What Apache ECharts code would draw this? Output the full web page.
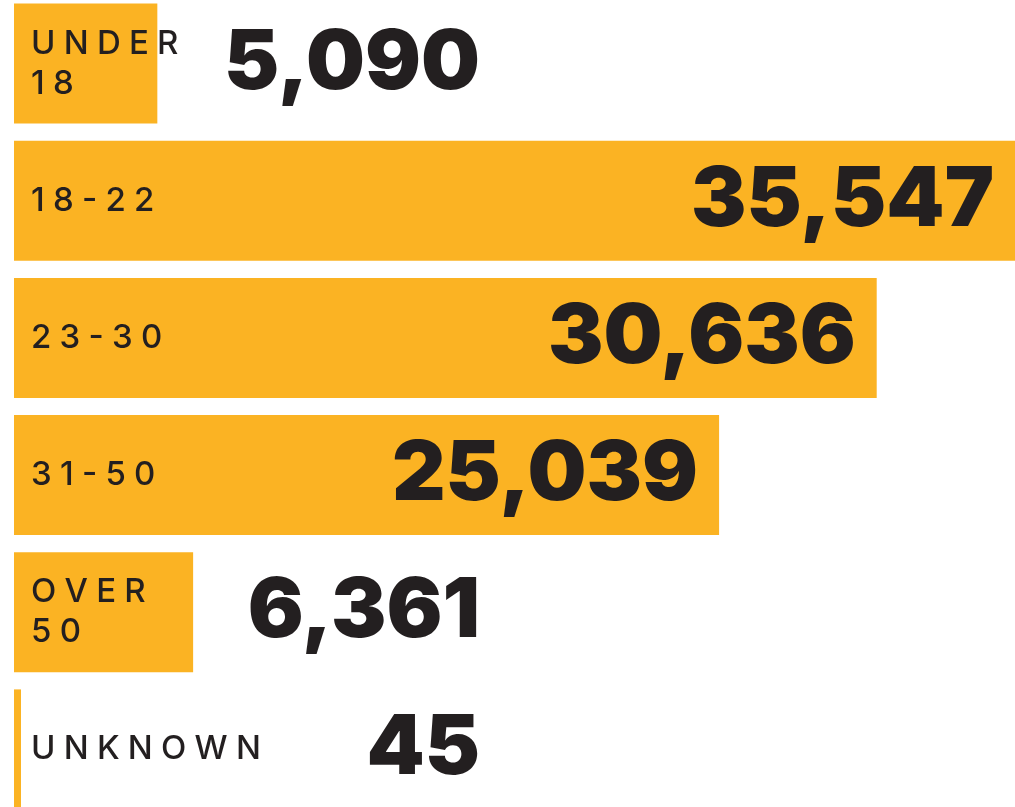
<!DOCTYPE html>
<html>
<head>
<meta charset="utf-8">
<script src="https://cdn.jsdelivr.net/npm/echarts@6/dist/echarts.min.js"></script>
<style>
html,body{margin:0;padding:0;background:#fff;overflow:hidden;}
#chart{width:1015px;height:823px;margin-top:-5px;}
</style>
</head>
<body>
<div id="chart"></div>
<script>
// ---- data ----
const categories = ['UNDER\n18', '18-22', '23-30', '31-50', 'OVER\n50', 'UNKNOWN'];
const values = [5090, 35547, 30636, 25039, 6361, 45];

// ---- style ----
const BAR_COLOR = '#FBB323';
const TEXT_COLOR = '#231F20';
const GRID_LEFT = 14;
const OUTSIDE_LABEL_RIGHT = 480; // right edge of value labels that sit outside short bars
const INSIDE_THRESHOLD = 15000;

function spaced(s) {
  return s.split('\n').map(line => line.split('').join('\u2005')).join('\n');
}
function fmt(v) { return v.toLocaleString('en-US'); }

const mainData = values.map(v => {
  const inside = v >= INSIDE_THRESHOLD;
  return {
    value: v,
    label: inside ? {
      position: 'insideRight', distance: 21
    } : {
      position: [OUTSIDE_LABEL_RIGHT - GRID_LEFT, '50%'],
      align: 'right', verticalAlign: 'middle'
    }
  };
});

const chart = echarts.init(document.getElementById('chart'), null, {renderer: 'canvas'});
chart.setOption({
  animation: false,
  grid: {left: GRID_LEFT, right: 0, top: 0, bottom: 0, containLabel: false},
  xAxis: {type: 'value', min: 0, max: 'dataMax', show: false},
  yAxis: {type: 'category', data: categories, inverse: true, show: false},
  series: [
    {
      type: 'bar',
      data: mainData,
      barCategoryGap: '12.5%',
      barMinHeight: 7,
      itemStyle: {color: BAR_COLOR},
      label: {
        show: true,
        formatter: p => fmt(p.value),
        color: TEXT_COLOR,
        fontFamily: 'Inter',
        fontWeight: 900,
        fontSize: 83
      },
      z: 2
    },
    {
      type: 'bar',
      data: values,
      barGap: '-100%',
      barCategoryGap: '12.5%',
      itemStyle: {color: 'rgba(0,0,0,0)'},
      label: {
        show: true,
        position: 'insideLeft',
        distance: 17,
        formatter: p => spaced(p.name),
        color: TEXT_COLOR,
        fontFamily: 'Inter',
        fontWeight: 500,
        fontSize: 33,
        lineHeight: 40
      },
      z: 3,
      silent: true
    }
  ]
});
</script>
</body>
</html>
